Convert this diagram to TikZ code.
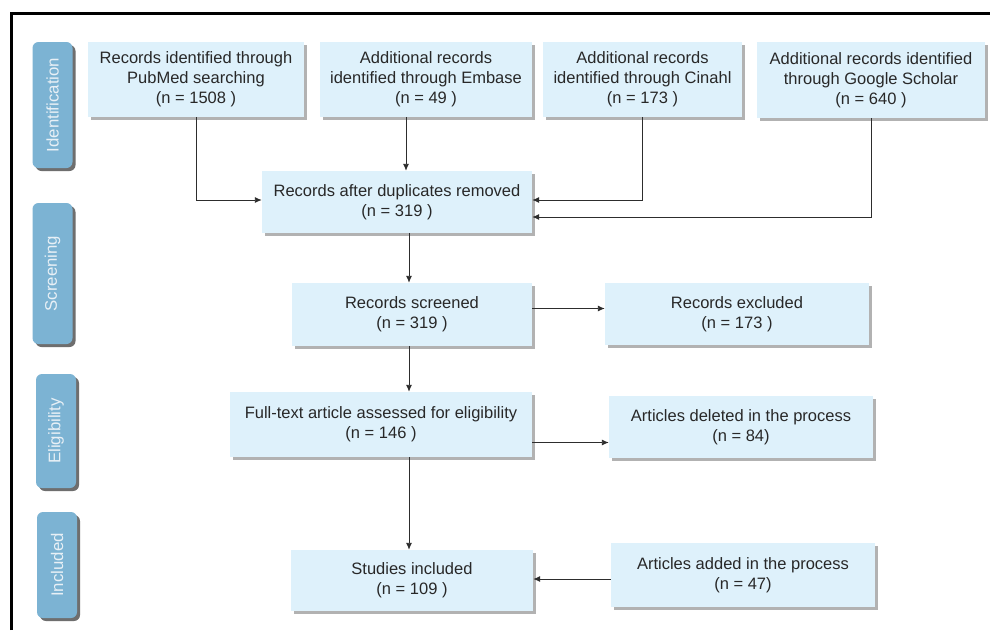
\documentclass[tikz,border=0pt]{standalone}
\usepackage{fontspec}
\setmainfont{Liberation Sans}
\usetikzlibrary{arrows.meta,shadows}
\definecolor{boxblue}{RGB}{222,241,251}
\definecolor{sideblue}{RGB}{124,179,211}
\definecolor{sidetext}{RGB}{232,240,246}
\definecolor{boxshadow}{RGB}{178,178,178}
\definecolor{sideshadow}{RGB}{110,110,110}
\definecolor{txt}{RGB}{40,40,40}
\definecolor{linec}{RGB}{45,45,45}
\begin{document}
\begin{tikzpicture}[x=1pt,y=-1pt,
  box/.style={fill=boxblue, inner sep=0pt, align=center, text=txt,
    font=\fontsize{16.5}{20}\selectfont,
    general shadow={fill=boxshadow, shadow xshift=3pt, shadow yshift=-3pt}},
  side/.style={fill=sideblue, rounded corners=6pt, inner sep=0pt, text=sidetext,
    minimum width=40pt, font=\fontsize{16.8}{18}\selectfont,
    general shadow={fill=sideshadow, shadow xshift=3pt, shadow yshift=-3pt}},
  arr/.style={draw=linec, line width=0.9pt, -{Latex[length=7pt,width=6pt]}}]
\useasboundingbox (0,0) rectangle (990,630);
\fill[white] (0,0) rectangle (990,630);
% frame
\draw[line width=3pt, black] (11,630) -- (11,13) -- (990,13);
% side labels
\node[side, minimum height=126pt] (sid) at (52.5,105) {\rotatebox{90}{Identification}};
\node[side, minimum height=141pt] (sscr) at (52.5,273.5) {\rotatebox{90}{Screening}};
\node[side, minimum height=114pt] (selig) at (56,431) {\rotatebox{90}{Eligibility}};
\node[side, minimum height=106pt] (sinc) at (57,565) {\rotatebox{90}{Included}};
% boxes
\node[box, minimum width=216pt, minimum height=75pt] (pub) at (196,79.5) {Records identified through\\PubMed searching\\(n = 1508 )};
\node[box, minimum width=212pt, minimum height=75pt] (emb) at (426,79.5) {Additional records\\identified through Embase\\(n = 49 )};
\node[box, minimum width=199pt, minimum height=75pt] (cin) at (642.5,79.5) {Additional records\\identified through Cinahl\\(n = 173 )};
\node[box, minimum width=228pt, minimum height=76pt] (goo) at (871,80) {Additional records identified\\through Google Scholar\\(n = 640 )};
\node[box, minimum width=270pt, minimum height=62pt] (dup) at (397,202) {Records after duplicates removed\\(n = 319 )};
\node[box, minimum width=240pt, minimum height=63pt] (scr) at (412,314.5) {Records screened\\(n = 319 )};
\node[box, minimum width=264pt, minimum height=62pt] (exc) at (737,314) {Records excluded\\(n = 173 )};
\node[box, minimum width=302pt, minimum height=65pt] (full) at (381,424.5) {Full-text article assessed for eligibility\\(n = 146 )};
\node[box, minimum width=264pt, minimum height=62pt] (del) at (741,427) {Articles deleted in the process\\(n = 84)};
\node[box, minimum width=242pt, minimum height=61pt] (inc) at (412,580.5) {Studies included\\(n = 109 )};
\node[box, minimum width=264pt, minimum height=64pt] (add) at (743,575) {Articles added in the process\\(n = 47)};
% connectors
\draw[arr] (pub.south) |- ([yshift=2pt]dup.west);
\draw[arr] ([xshift=-20pt]emb.south) -- ([xshift=-20pt]emb.south |- dup.north);
\draw[arr] (cin.south) |- ([yshift=2pt]dup.east);
\draw[arr] (goo.south) |- ([yshift=-15pt]dup.east);
\draw[arr] ([xshift=-3pt]scr.north |- dup.south) -- ([xshift=-3pt]scr.north);
\draw[arr] ([yshift=6pt]scr.east) -- ([yshift=6pt]scr.east -| exc.west);
\draw[arr] ([xshift=-3pt]scr.south) -- ([xshift=-3pt]scr.south |- full.north);
\draw[arr] ([yshift=-18pt]full.east) -- ([yshift=-18pt]full.east -| del.west);
\draw[arr] ([xshift=-3pt]scr.south |- full.south) -- ([xshift=-3pt]scr.south |- inc.north);
\draw[arr] ([yshift=-4pt]add.west) -- ([yshift=-4pt]add.west -| inc.east);
\end{tikzpicture}
\end{document}
